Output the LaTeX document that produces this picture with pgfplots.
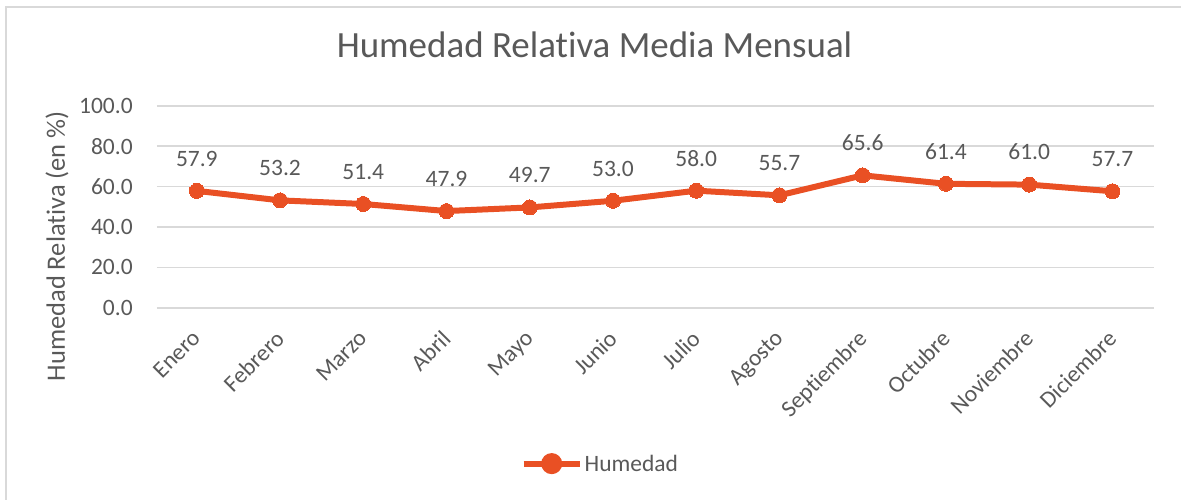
\documentclass[border=0pt]{standalone}
\usepackage{pgfplots}
\pgfplotsset{compat=1.18}
\usepackage{fontspec}
\setmainfont{Carlito}[RawFeature={-liga;-clig;-dlig;-calt}]
\definecolor{txt}{HTML}{595959}
\definecolor{gridc}{HTML}{D9D9D9}
\definecolor{serie}{RGB}{233,80,36}
\newcommand{\tickfont}{\fontsize{23.5bp}{28bp}\selectfont}
\newcommand{\labfont}{\fontsize{26.5bp}{32bp}\selectfont}
\newcommand{\titfont}{\fontsize{37bp}{44bp}\selectfont}
\begin{document}
\begin{tikzpicture}
\path (0,0) rectangle (1182bp,500bp);
\draw[gridc, line width=2bp] (5.7bp,0) -- (5.7bp,493.3bp) -- (1182bp,493.3bp);
\begin{axis}[
  at={(157bp,192bp)}, anchor=south west,
  width=998bp, height=202bp, scale only axis,
  xmin=-0.48, xmax=11.5,
  ymin=0, ymax=100,
  ytick={0,20,40,60,80,100},
  xtick={0,...,11},
  xticklabels={Enero,Febrero,Marzo,Abril,Mayo,Junio,Julio,Agosto,Septiembre,Octubre,Noviembre,Diciembre},
  /pgf/number format/assume math mode=true,
  yticklabel={\pgfmathprintnumber[fixed,fixed zerofill,precision=1]{\tick}},
  axis line style={draw=none},
  tick style={draw=none},
  ymajorgrids,
  grid style={gridc, line width=1.6bp},
  clip=false,
  every tick label/.append style={font=\tickfont, text=txt},
  yticklabel style={inner sep=0pt, anchor=east, xshift=-24bp},
  xticklabel style={inner sep=0pt, xshift=-6bp, yshift=-21bp, rotate=45, anchor=north east},
  ylabel={Humedad Relativa (en \%)},
  ylabel style={font=\labfont, text=txt, at={(axis description cs:-0.1002,0.3045)}, anchor=center, rotate=0},
  title={Humedad Relativa Media Mensual},
  title style={font=\titfont, text=txt, at={(axis description cs:0.4389,1.208)}, anchor=base},
  legend style={at={(axis description cs:0.3647,-0.7723)}, anchor=west, draw=none, fill=none, inner sep=0pt,
    font=\tickfont, text=txt, nodes={inner sep=2bp}},
  legend image code/.code={
    \draw[serie, line width=6bp] (0bp,0bp) -- (56bp,0bp);
    \fill[serie] (28bp,0bp) circle (7.5bp);
  },
  point meta=y,
  nodes near coords={\pgfmathprintnumber[fixed,fixed zerofill,precision=1]{\pgfplotspointmeta}},
  nodes near coords style={font=\tickfont, text=txt, anchor=south, inner sep=0pt, yshift=24.5bp},
]
\addplot[serie, line width=6bp, mark=*, mark size=7.5bp, mark options={fill=serie, draw=serie, line width=0pt}]
coordinates {
(0,57.9) (1,53.2) (2,51.4) (3,47.9) (4,49.7) (5,53.0)
(6,58.0) (7,55.7) (8,65.6) (9,61.4) (10,61.0) (11,57.7)
};
\addlegendentry{Humedad}
\end{axis}
\end{tikzpicture}
\end{document}
